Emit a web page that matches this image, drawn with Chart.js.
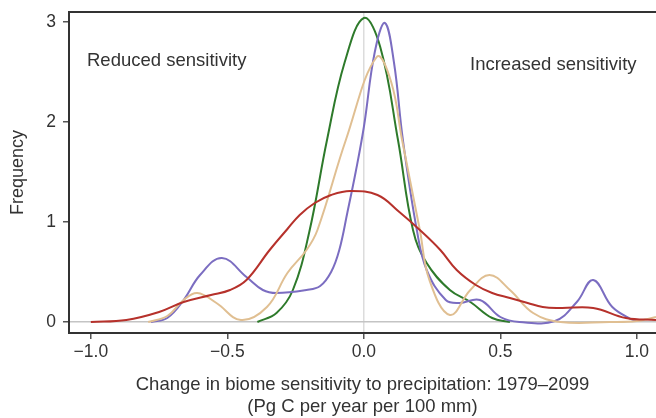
<!DOCTYPE html>
<html>
<head>
<meta charset="utf-8">
<script src="https://cdn.jsdelivr.net/npm/chart.js@4/dist/chart.umd.min.js"></script>
<style>
  html, body { margin: 0; padding: 0; background: #fff; }
  #wrap { width: 656px; height: 418px; }
</style>
</head>
<body>
<div id="wrap"><canvas id="c"></canvas></div>
<script>
// Density curves: [x, frequency]
const greenCurve = [
    [-0.39, 0], [-0.32, 0.09], [-0.26, 0.32], [-0.2, 0.9], [-0.135, 1.82],
    [-0.07, 2.6], [0, 3.04], [0.06, 2.75], [0.125, 1.82], [0.18, 0.92],
    [0.23, 0.59], [0.315, 0.32], [0.39, 0.2], [0.47, 0.04], [0.535, 0]
];
const purpleCurve = [
    [-0.78, 0], [-0.72, 0.04], [-0.66, 0.22], [-0.6, 0.47], [-0.52, 0.64],
    [-0.43, 0.45], [-0.37, 0.32], [-0.32, 0.29], [-0.21, 0.32], [-0.16, 0.36],
    [-0.12, 0.5], [-0.09, 0.72], [-0.06, 1.1], [-0.03, 1.5], [0.0, 1.95],
    [0.04, 2.7], [0.077, 2.99], [0.11, 2.6], [0.143, 1.82], [0.194, 0.92],
    [0.23, 0.52], [0.3, 0.22], [0.35, 0.19], [0.425, 0.22], [0.5, 0.05],
    [0.57, 0.0], [0.7, 0.01], [0.78, 0.2], [0.84, 0.42], [0.91, 0.15],
    [0.985, 0.02], [1.0, 0.01]
];
const tanCurve = [
    [-0.79, 0], [-0.72, 0.06], [-0.66, 0.22], [-0.61, 0.29], [-0.54, 0.19],
    [-0.45, 0.02], [-0.355, 0.15], [-0.28, 0.49], [-0.21, 0.72], [-0.17, 0.92],
    [-0.066, 1.82], [0.047, 2.65], [0.1, 2.4], [0.14, 1.82], [0.205, 0.92],
    [0.24, 0.42], [0.315, 0.07], [0.39, 0.32], [0.46, 0.47], [0.535, 0.32],
    [0.62, 0.09], [0.72, 0.0], [0.9, 0.0], [1.0, 0.01], [1.07, 0.05]
];
const redCurve = [
    [-1.0, 0], [-0.87, 0.02], [-0.75, 0.1], [-0.66, 0.2], [-0.56, 0.27],
    [-0.49, 0.32], [-0.43, 0.42], [-0.345, 0.72], [-0.28, 0.93], [-0.235, 1.07],
    [-0.18, 1.19], [-0.12, 1.27], [-0.05, 1.31], [0.05, 1.27], [0.13, 1.1],
    [0.205, 0.92], [0.28, 0.72], [0.34, 0.52], [0.41, 0.37], [0.47, 0.29],
    [0.535, 0.24], [0.6, 0.19], [0.655, 0.15], [0.72, 0.14], [0.84, 0.14],
    [0.96, 0.04], [1.07, 0.02]
];

const xTicks = [-1.0, -0.5, 0, 0.5, 1.0];
const yTicks = [0, 1, 2, 3];

const FONT = 'Liberation Sans, Arial, Helvetica, sans-serif';
const TEXT = '#333333';

function series(points, color) {
    return {
        data: points.map(p => ({ x: p[0], y: p[1] })),
        borderColor: color,
        borderWidth: 2,
        pointRadius: 0,
        fill: false,
        tension: 0.4,
    };
}

// Top frame line and the two region labels
const decorations = {
    id: 'decorations',
    afterDraw(chart) {
        const { ctx, chartArea } = chart;
        ctx.save();
        ctx.strokeStyle = '#333';
        ctx.lineWidth = 2;
        ctx.beginPath();
        ctx.moveTo(chartArea.left - 1, chartArea.top);
        ctx.lineTo(chartArea.right, chartArea.top);
        ctx.stroke();

        ctx.fillStyle = TEXT;
        ctx.font = '18.5px ' + FONT;
        ctx.textBaseline = 'middle';
        ctx.textAlign = 'left';
        ctx.fillText('Reduced sensitivity', 87, 61);
        ctx.fillText('Increased sensitivity', 470, 65);
        ctx.restore();
    },
};

new Chart(document.getElementById('c'), {
    type: 'line',
    data: {
        datasets: [
            series(redCurve, '#b6312b'),
            series(tanCurve, '#e0bf92'),
            series(purpleCurve, '#7b6dc1'),
            series(greenCurve, '#2e7a2b'),
        ],
    },
    options: {
        responsive: true,
        maintainAspectRatio: false,
        animation: false,
        layout: { padding: { top: 12, right: 0, left: 0, bottom: 0 } },
        plugins: {
            legend: { display: false },
            tooltip: { enabled: false },
        },
        scales: {
            x: {
                type: 'linear',
                min: -1.08,
                max: 1.07,
                afterBuildTicks: axis => { axis.ticks = xTicks.map(v => ({ value: v })); },
                afterFit: axis => {
                    axis.height = 85;
                    axis.paddingLeft = 0;
                    axis.paddingRight = 0;
                },
                ticks: {
                    color: TEXT,
                    font: { family: FONT, size: 17.5 },
                    padding: 3,
                    maxRotation: 0,
                    callback: v => (v < 0 ? '\u2212' : '') + Math.abs(v).toFixed(1),
                },
                grid: {
                    color: c => (c.tick && c.tick.value === 0 ? '#dcdcdc' : 'rgba(0,0,0,0)'),
                    lineWidth: 1.5,
                    tickColor: '#555',
                    tickLength: 6,
                },
                border: { display: true, color: '#333', width: 2 },
                title: {
                    display: true,
                    text: ['Change in biome sensitivity to precipitation: 1979\u20132099', '(Pg C per year per 100 mm)'],
                    color: TEXT,
                    font: { family: FONT, size: 18.5, lineHeight: 1.2 },
                    padding: { top: 2, bottom: 0 },
                },
            },
            y: {
                type: 'linear',
                min: -0.11,
                max: 3.1,
                afterBuildTicks: axis => { axis.ticks = yTicks.map(v => ({ value: v })); },
                afterFit: axis => {
                    axis.width = 69;
                    axis.paddingTop = 0;
                    axis.paddingBottom = 0;
                },
                ticks: {
                    color: TEXT,
                    font: { family: FONT, size: 17.5 },
                    padding: 7,
                    callback: v => String(v),
                },
                grid: {
                    color: c => (c.tick && c.tick.value === 0 ? '#c4c4c4' : 'rgba(0,0,0,0)'),
                    lineWidth: 1.5,
                    tickColor: '#555',
                    tickLength: 6,
                },
                border: { display: true, color: '#333', width: 2 },
                title: {
                    display: true,
                    text: 'Frequency',
                    color: TEXT,
                    font: { family: FONT, size: 18 },
                    padding: { top: 7, bottom: 10 },
                },
            },
        },
    },
    plugins: [decorations],
});
</script>
</body>
</html>
